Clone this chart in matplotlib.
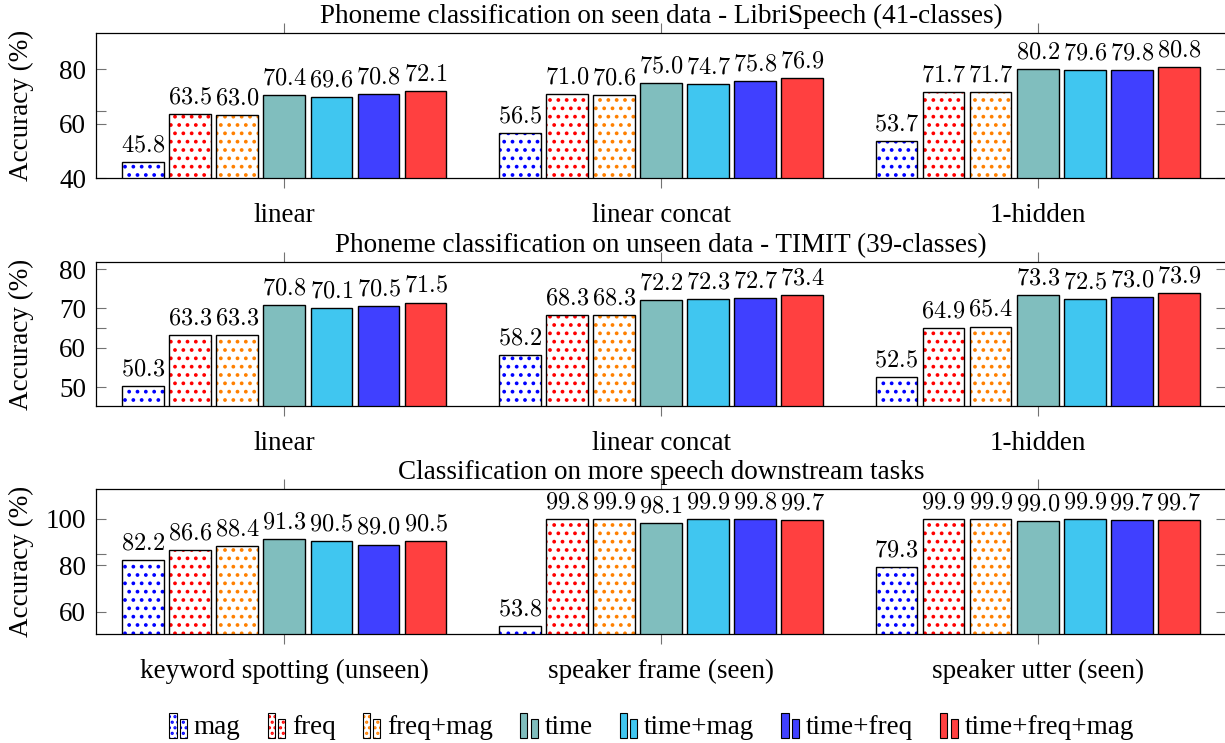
import numpy as np
import matplotlib
matplotlib.use('Agg')
import matplotlib.pyplot as plt
from matplotlib.patches import Rectangle
from matplotlib.legend_handler import HandlerBase

plt.rcParams['font.family'] = ['Liberation Serif', 'DejaVu Serif']
plt.rcParams['mathtext.fontset'] = 'cm'
plt.rcParams['hatch.linewidth'] = 1.5

# ---- data ----
methods = ['mag', 'freq', 'freq+mag', 'time', 'time+mag', 'time+freq', 'time+freq+mag']

groups_seen = ['linear', 'linear concat', '1-hidden']
acc_seen = [
    [45.8, 63.5, 63.0, 70.4, 69.6, 70.8, 72.1],
    [56.5, 71.0, 70.6, 75.0, 74.7, 75.8, 76.9],
    [53.7, 71.7, 71.7, 80.2, 79.6, 79.8, 80.8],
]

groups_unseen = ['linear', 'linear concat', '1-hidden']
acc_unseen = [
    [50.3, 63.3, 63.3, 70.8, 70.1, 70.5, 71.5],
    [58.2, 68.3, 68.3, 72.2, 72.3, 72.7, 73.4],
    [52.5, 64.9, 65.4, 73.3, 72.5, 73.0, 73.9],
]

groups_tasks = ['keyword spotting (unseen)', 'speaker frame (seen)', 'speaker utter (seen)']
acc_tasks = [
    [82.2, 86.6, 88.4, 91.3, 90.5, 89.0, 90.5],
    [53.8, 99.8, 99.9, 98.1, 99.9, 99.8, 99.7],
    [79.3, 99.9, 99.9, 99.0, 99.9, 99.7, 99.7],
]

# style per method: face colour, hatch, hatch colour
styles = [
    ('white', '..', '#0000ff'),
    ('white', '..', '#ff0000'),
    ('white', '..', '#ff8000'),
    ('#80bebe', None, None),
    ('#40c6f0', None, None),
    ('#4040ff', None, None),
    ('#ff4040', None, None),
]

W, H = 1225, 743
fig = plt.figure(figsize=(W / 100, H / 100), dpi=100)
FS = 19.5


def px_axes(left, top, right, bottom):
    return fig.add_axes([left / W, 1 - bottom / H, (right - left) / W, (bottom - top) / H])


def draw_panel(ax, groups, acc, ylim, yticks, extra_tick, title):
    acc = np.array(acc)
    x = np.arange(len(groups))
    step = 0.125
    bw = 0.111
    for j in range(len(methods)):
        face, hatch, hcol = styles[j]
        pos = x + (j - 3) * step
        vals = acc[:, j]
        if hatch:
            ax.bar(pos, vals, bw, color=face, hatch=hatch, edgecolor=hcol, linewidth=0)
        else:
            ax.bar(pos, vals, bw, color=face, linewidth=0)
        ax.bar(pos, vals, bw, fill=False, edgecolor='black', linewidth=1.0)
        for p, v in zip(pos, vals):
            ax.annotate(f'${v:.1f}$', (p, v), xytext=(0, 4), textcoords='offset points',
                        ha='center', va='bottom', fontsize=17.5)
    ax.set_xlim(-0.5, 2.5)
    ax.set_ylim(*ylim)
    ax.set_xticks(x)
    ax.set_xticklabels(groups, fontsize=FS)
    ax.set_yticks(yticks + [extra_tick])
    ax.set_yticklabels([str(t) for t in yticks] + [''], fontsize=FS)
    ax.tick_params(axis='y', direction='in', left=True, right=True, length=7,
                   width=0.8, color='0.45', pad=7)
    ax.tick_params(axis='x', direction='out', top=True, bottom=True, length=7,
                   width=0.8, color='0.45', pad=11)
    ax.set_ylabel('Accuracy (%)', fontsize=FS)
    ax.set_title(title, fontsize=FS, pad=7)
    for s in ax.spines.values():
        s.set_linewidth(0.9)


ax1 = px_axes(96, 33, 1226, 178)
draw_panel(ax1, groups_seen, acc_seen, (40, 93.3), [40, 60, 80], 64.8,
           'Phoneme classification on seen data - LibriSpeech (41-classes)')

ax2 = px_axes(96, 262, 1226, 406)
draw_panel(ax2, groups_unseen, acc_unseen, (45.2, 81.8), [50, 60, 70, 80], 64.9,
           'Phoneme classification on unseen data - TIMIT (39-classes)')

ax3 = px_axes(96, 489, 1226, 634)
draw_panel(ax3, groups_tasks, acc_tasks, (50.5, 112.9), [60, 80, 100], 84.8,
           'Classification on more speech downstream tasks')
for a in (ax1, ax2, ax3):
    a.yaxis.set_label_coords(-0.055, 0.5)


# legend: two little bars per entry, like pgfplots ybar legend
class TwoBars(HandlerBase):
    def create_artists(self, legend, orig_handle, xdescent, ydescent, width, height, fontsize, trans):
        face, hatch, hcol = orig_handle.style
        w = width * 0.38
        arts = []
        for x0, h in [(0, height * 1.35), (width * 0.55, height * 1.0)]:
            y0 = -ydescent - height * 0.25
            if hatch:
                arts.append(Rectangle((x0 - xdescent, y0), w, h, facecolor=face, hatch='...',
                                      edgecolor=hcol, linewidth=0, transform=trans))
            else:
                arts.append(Rectangle((x0 - xdescent, y0), w, h, facecolor=face,
                                      linewidth=0, transform=trans))
            arts.append(Rectangle((x0 - xdescent, y0), w, h, fill=False,
                                  edgecolor='black', linewidth=0.8, transform=trans))
        return arts


handles = []
for st in styles:
    h = Rectangle((0, 0), 1, 1)
    h.style = st
    handles.append(h)

fig.legend(handles, methods, loc='center', bbox_to_anchor=(0.532, 1 - 727 / H), ncol=7,
           frameon=False, fontsize=FS, handler_map={Rectangle: TwoBars()},
           handlelength=0.7, handletextpad=0.2, columnspacing=1.0)

fig.savefig('out.png', dpi=100)
